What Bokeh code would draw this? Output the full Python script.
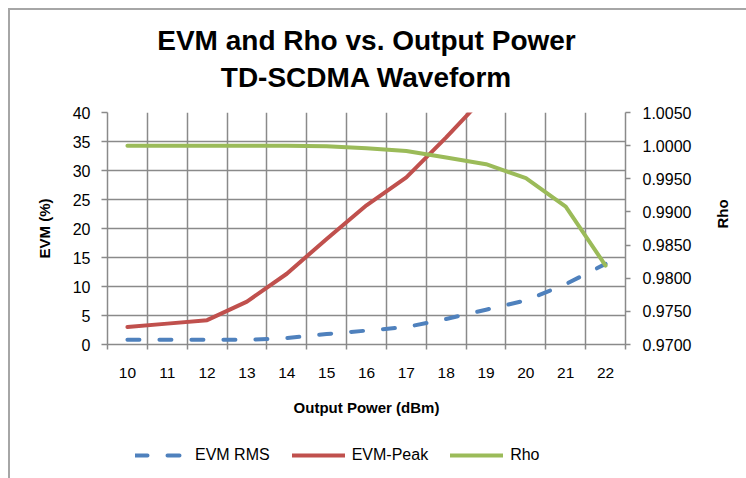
import math
from bokeh.plotting import figure
from bokeh.layouts import column
from bokeh.models import (Range1d, LinearAxis, FixedTicker, NumeralTickFormatter,
                          Legend, LegendItem, Title)
from bokeh.embed import file_html
from bokeh.resources import INLINE

# ---- data ----
power = [10, 11, 12, 13, 14, 15, 16, 17, 18, 19, 20, 21, 22]
evm_rms = [0.8, 0.8, 0.8, 0.8, 1.1, 1.8, 2.4, 3.0, 4.4, 6.0, 7.6, 10.4, 13.9]
evm_peak = [3.0, 3.6, 4.2, 7.4, 12.2, 18.2, 24.0, 28.8, 35.7, 43.0]
rho = [1.0000, 1.0000, 1.0000, 1.0000, 1.0000, 0.9999, 0.9996, 0.9992,
       0.9982, 0.9972, 0.9951, 0.9908, 0.9819]
evm_ticks = [0, 5, 10, 15, 20, 25, 30, 35, 40]
rho_ticks = [0.970, 0.975, 0.980, 0.985, 0.990, 0.995, 1.000, 1.005]
series_names = ["EVM RMS", "EVM-Peak", "Rho"]
title_1 = "EVM and Rho vs. Output Power"
title_2 = "TD-SCDMA Waveform"

FONT = "Liberation Sans"
GRID = "#8a8a8a"
COLORS = ["#4F81BD", "#C0504D", "#9BBB59"]
DASH = "12 20"

bounds = [c - 0.5 for c in power] + [power[-1] + 0.5]

p = figure(width=736, height=428, output_backend="svg", toolbar_location=None,
           x_range=Range1d(power[0] - 0.5, power[-1] + 0.5),
           y_range=Range1d(evm_ticks[0], evm_ticks[-1]),
           min_border_left=97, min_border_right=121,
           min_border_top=102, min_border_bottom=94)
p.outline_line_color = None
p.background_fill_color = "white"
p.border_fill_color = "white"

p.extra_y_ranges = {"rho": Range1d(rho_ticks[0], rho_ticks[-1])}

# titles (first added is nearest the frame)
p.add_layout(Title(text=title_2, align="center", text_font=FONT, text_font_size="28px",
                   text_font_style="bold", text_color="black", standoff=39), "above")
p.add_layout(Title(text=title_1, align="center", text_font=FONT, text_font_size="28px",
                   text_font_style="bold", text_color="black", standoff=-31), "above")

# x axis
xa = p.xaxis[0]
xa.ticker = FixedTicker(ticks=power, minor_ticks=bounds)
xa.major_tick_line_color = None
xa.major_tick_out = 0
xa.minor_tick_out = 5
xa.minor_tick_in = 0
xa.minor_tick_line_color = GRID
xa.minor_tick_line_width = 1.5
xa.axis_line_color = GRID
xa.axis_line_width = 1.5
xa.major_label_text_font = FONT
xa.major_label_text_font_size = "15.5px"
xa.major_label_text_color = "black"
xa.major_label_standoff = 18
xa.axis_label = "Output Power (dBm)"
xa.axis_label_text_font = FONT
xa.axis_label_text_font_size = "15px"
xa.axis_label_text_font_style = "bold"
xa.axis_label_text_color = "black"
xa.axis_label_standoff = 18

# left axis
ya = p.yaxis[0]
ya.ticker = FixedTicker(ticks=evm_ticks)
ya.minor_tick_line_color = None
ya.major_tick_out = 6
ya.major_tick_in = 0
ya.major_tick_line_color = GRID
ya.major_tick_line_width = 1.5
ya.axis_line_color = GRID
ya.axis_line_width = 1.5
ya.major_label_text_font = FONT
ya.major_label_text_font_size = "16px"
ya.major_label_text_color = "black"
ya.major_label_standoff = 11
ya.axis_label = "EVM (%)"
ya.axis_label_text_font = FONT
ya.axis_label_text_font_size = "15px"
ya.axis_label_text_font_style = "bold"
ya.axis_label_text_color = "black"
ya.axis_label_standoff = 17

# right axis
ra = LinearAxis(y_range_name="rho", ticker=FixedTicker(ticks=rho_ticks),
                formatter=NumeralTickFormatter(format="0.0000"))
ra.minor_tick_line_color = None
ra.major_tick_out = 5
ra.major_tick_in = 0
ra.major_tick_line_color = GRID
ra.major_tick_line_width = 1.5
ra.axis_line_color = GRID
ra.axis_line_width = 1.5
ra.major_label_text_font = FONT
ra.major_label_text_font_size = "16px"
ra.major_label_text_color = "black"
ra.major_label_standoff = 12
ra.axis_label = "Rho"
ra.axis_label_text_font = FONT
ra.axis_label_text_font_size = "15px"
ra.axis_label_text_font_style = "bold"
ra.axis_label_text_color = "black"
ra.axis_label_standoff = 28
if "axis_label_orientation" in ra.properties():
    ra.axis_label_orientation = math.pi / 2
p.add_layout(ra, "right")

# grids
p.xgrid.ticker = FixedTicker(ticks=bounds)
p.xgrid.grid_line_color = GRID
p.xgrid.grid_line_width = 1.5
p.ygrid.ticker = FixedTicker(ticks=evm_ticks)
p.ygrid.grid_line_color = GRID
p.ygrid.grid_line_width = 1.5

# series
p.line(power, evm_rms, line_color=COLORS[0], line_width=4,
       line_dash=DASH, line_cap="round")
p.line(power[:len(evm_peak)], evm_peak, line_color=COLORS[1], line_width=4,
       line_join="round", line_cap="round")
p.line(power, rho, y_range_name="rho", line_color=COLORS[2], line_width=4,
       line_join="round", line_cap="round")

# legend strip below the chart (its frame is aligned with the chart's frame);
# the key lines reuse the data but lie outside this strip's ranges
p2 = figure(width=736, height=40, output_backend="svg", toolbar_location=None,
            x_axis_location=None, y_axis_location=None,
            x_range=Range1d(0, 1), y_range=Range1d(100, 101), min_border=0)
p2.outline_line_color = None
p2.grid.visible = False
p2.background_fill_color = "white"
p2.border_fill_color = "white"
k1 = p2.line(power, evm_rms, line_color=COLORS[0], line_width=4, line_dash=DASH,
             line_cap="round")
k2 = p2.line(power[:len(evm_peak)], evm_peak, line_color=COLORS[1], line_width=4,
             line_cap="round")
k3 = p2.line(power, rho, line_color=COLORS[2], line_width=4, line_cap="round")
legend = Legend(items=[LegendItem(label=series_names[0], renderers=[k1]),
                       LegendItem(label=series_names[1], renderers=[k2]),
                       LegendItem(label=series_names[2], renderers=[k3])],
                orientation="horizontal", location=(28, 13),
                glyph_width=53, glyph_height=20, label_height=20,
                label_standoff=7, spacing=22, padding=0, margin=0,
                label_text_font=FONT, label_text_font_size="16px",
                label_text_color="black",
                border_line_color=None, background_fill_alpha=0)
p2.add_layout(legend)

layout = column(p, p2, spacing=0)
layout.styles = {"margin-left": "8px", "margin-top": "8px",
                 "border-left": "2px solid #a6a6a6", "border-top": "2px solid #a6a6a6"}

open("out.html", "w").write(file_html(layout, INLINE))
